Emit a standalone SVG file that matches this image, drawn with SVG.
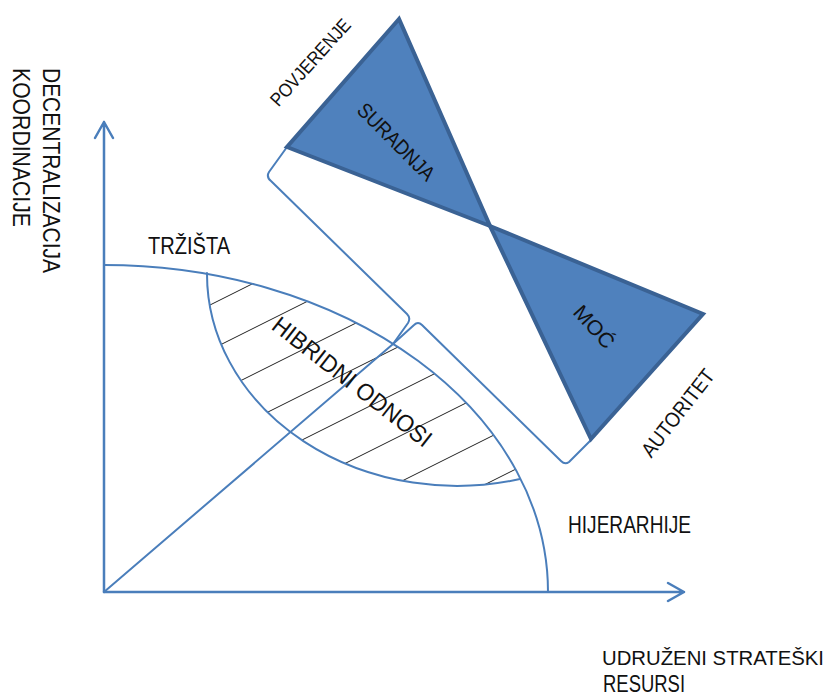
<svg xmlns="http://www.w3.org/2000/svg" width="832" height="697" viewBox="0 0 832 697">
<style>
.ln{fill:none;stroke:#4A7EBB;stroke-width:2;stroke-linejoin:round;stroke-linecap:round}
.ax{fill:none;stroke:#4A7EBB;stroke-width:2.5;stroke-linecap:round;stroke-linejoin:round}
.tri{fill:#4F81BD;stroke:#3A6294;stroke-width:4;stroke-linejoin:miter}
.h{stroke:#222;stroke-width:1}
text{font-family:"Liberation Sans",Arial,sans-serif;fill:#111;font-size:24px}
.s{font-size:21px}
</style>
<defs>
<clipPath id="lens"><path d="M207,273 A444,327 0 0 1 520,479 A250,212 0 0 1 207,273 Z"/></clipPath>
</defs>
<rect width="832" height="697" fill="#fff"/>
<g id="axes">
<path class="ax" d="M104,592 L104,122 M95,138 L104,122 L113,138"/>
<path class="ax" d="M104,592 L684,592 M668,583 L684,592 L668,601"/>
</g>
<g id="hatch" clip-path="url(#lens)">
<path class="h" d="M190,315 L540,140 M190,360 L540,185 M190,406 L540,231 M190,451 L540,276 M190,496 L540,321 M190,541 L540,366 M190,587 L540,412 M190,632 L540,457"/>
</g>
<g id="connectors">
<path class="ln" d="M104,265 A444,327 0 0 1 548,592"/>
<path class="ln" d="M207,273 A250,212 0 0 0 520,479"/>
<path class="ln" d="M104,592 L393,344"/>
<path class="ln" d="M287,147 L269,172 Q266,177 271,181 L407,314 Q411,318 408,323 L393,344"/>
<path class="ln" d="M393,344 L414,325 Q418,321 422,325 L561,461 Q565,465 569,462 L591,440"/>
</g>
<g id="bowtie">
<polygon class="tri" points="399,19 287,147 490,226"/>
<polygon class="tri" points="490,226 703,314 591,439"/>
</g>
<g id="labels">
<text transform="translate(13,68) rotate(90)" textLength="159" lengthAdjust="spacingAndGlyphs">KOORDINACIJE</text>
<text transform="translate(43,68) rotate(90)" textLength="205" lengthAdjust="spacingAndGlyphs">DECENTRALIZACIJA</text>
<text x="148" y="254" textLength="82" lengthAdjust="spacingAndGlyphs">TRŽIŠTA</text>
<text x="568" y="533" textLength="123" lengthAdjust="spacingAndGlyphs">HIJERARHIJE</text>
<text x="602" y="665" style="font-size:20.5px" textLength="222" lengthAdjust="spacingAndGlyphs">UDRUŽENI STRATEŠKI</text>
<text x="603" y="692" textLength="82" lengthAdjust="spacingAndGlyphs">RESURSI</text>
<text class="s" transform="translate(310,62) rotate(-48)" x="0" y="7" style="font-size:19px" text-anchor="middle" textLength="110" lengthAdjust="spacingAndGlyphs">POVJERENJE</text>
<text class="s" transform="translate(396,142) rotate(45)" x="0" y="7" text-anchor="middle" textLength="100" lengthAdjust="spacingAndGlyphs">SURADNJA</text>
<text transform="translate(352,382) rotate(38)" x="0" y="8" text-anchor="middle" textLength="195" lengthAdjust="spacingAndGlyphs">HIBRIDNI ODNOSI</text>
<text class="s" transform="translate(594,327) rotate(48)" x="0" y="7" text-anchor="middle" textLength="50" lengthAdjust="spacingAndGlyphs">MOĆ</text>
<text class="s" transform="translate(678,413) rotate(-52)" x="0" y="7" text-anchor="middle" textLength="105" lengthAdjust="spacingAndGlyphs">AUTORITET</text>
</g>
</svg>
